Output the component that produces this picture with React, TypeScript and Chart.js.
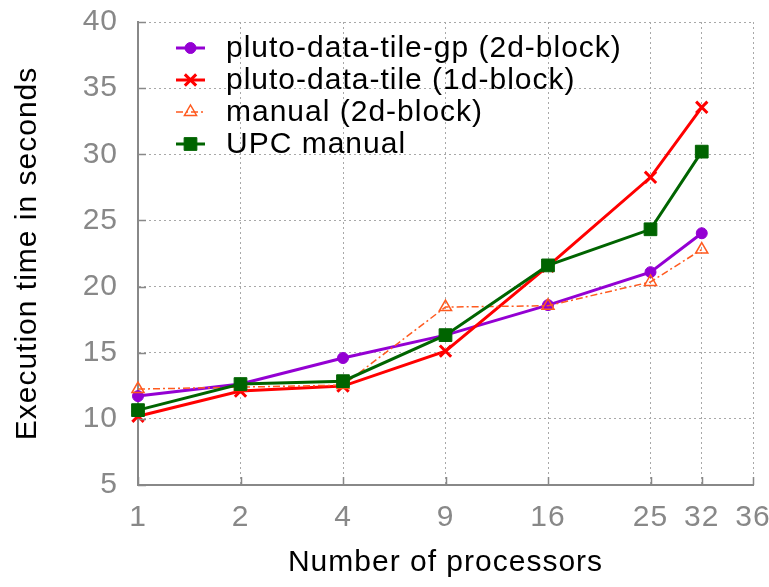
import React, { useEffect, useRef } from 'react';
import { Chart, registerables } from 'chart.js';

Chart.register(...registerables);

// Data
const processors = [1, 2, 4, 9, 16, 25, 32];
const processorAxisPos = [0, 1, 2, 3, 4, 5, 5.5];
const xTickLabels = ['1', '2', '4', '9', '16', '25', '32', '36'];
const xTickPos = [0, 1, 2, 3, 4, 5, 5.5, 6];
const yTickValues = [5, 10, 15, 20, 25, 30, 35, 40];

const seriesNames = [
  'pluto-data-tile-gp (2d-block)',
  'pluto-data-tile (1d-block)',
  'manual (2d-block)',
  'UPC manual',
];
const plutoGp2d = [11.72, 12.63, 14.6, 16.33, 18.6, 21.09, 24.03];
const pluto1d = [10.2, 12.1, 12.48, 15.12, 21.54, 28.26, 33.55];
const manual2d = [12.25, 12.4, 12.55, 18.45, 18.55, 20.35, 22.8];
const upcManual = [10.66, 12.63, 12.85, 16.33, 21.6, 24.33, 30.2];

const FONT = "'Liberation Sans', Arial, sans-serif";
const FS = 30;
const GRAY = '#888888';

const toPoints = (vals: number[]) => vals.map((v, i) => ({ x: processorAxisPos[i], y: v, p: processors[i] }));

const spacing = {
  id: 'spacing',
  beforeDraw(chart: any) {
    try {
      (chart.ctx as any).letterSpacing = '1px';
    } catch (e) {}
  },
};

const inwardTicks = {
  id: 'inwardTicks',
  afterDatasetsDraw(chart: any) {
    const { ctx, chartArea, scales } = chart;
    ctx.save();
    ctx.strokeStyle = GRAY;
    ctx.lineWidth = 1.5;
    ctx.beginPath();
    yTickValues.forEach((v) => {
      const y = Math.round(scales.y.getPixelForValue(v)) + 0.5;
      ctx.moveTo(chartArea.left, y);
      ctx.lineTo(chartArea.left + 8, y);
    });
    xTickPos.forEach((p) => {
      const x = Math.round(scales.x.getPixelForValue(p)) + 0.5;
      ctx.moveTo(x, chartArea.bottom);
      ctx.lineTo(x, chartArea.bottom - 8);
    });
    ctx.stroke();
    ctx.restore();
  },
};

function drawPointSimple(ctx: CanvasRenderingContext2D, style: string, r: number, x: number, y: number) {
  ctx.beginPath();
  if (style === 'circle') {
    ctx.arc(x, y, r, 0, Math.PI * 2);
    ctx.fill();
    ctx.stroke();
  } else if (style === 'crossRot') {
    const d = r * Math.SQRT1_2;
    ctx.moveTo(x - d, y - d);
    ctx.lineTo(x + d, y + d);
    ctx.moveTo(x - d, y + d);
    ctx.lineTo(x + d, y - d);
    ctx.stroke();
  } else if (style === 'triangle') {
    ctx.moveTo(x, y - r);
    ctx.lineTo(x + r * 0.866, y + r * 0.5);
    ctx.lineTo(x - r * 0.866, y + r * 0.5);
    ctx.closePath();
    ctx.fill();
    ctx.stroke();
  } else if (style === 'rect') {
    const s = r * Math.SQRT1_2;
    ctx.rect(x - s, y - s, 2 * s, 2 * s);
    ctx.fill();
    ctx.stroke();
  }
}

const customLegend = {
  id: 'customLegend',
  afterDraw(chart: any) {
    const { ctx } = chart;
    const x0 = 176;
    const x1 = 205;
    const textX = 226;
    const rowY = [48, 80, 112, 144];
    ctx.save();
    chart.data.datasets.forEach((ds: any, i: number) => {
      const y = rowY[i];
      ctx.save();
      ctx.strokeStyle = ds.borderColor;
      ctx.lineWidth = ds.borderWidth;
      ctx.setLineDash(ds.borderDash || []);
      ctx.beginPath();
      ctx.moveTo(x0, y);
      ctx.lineTo(x1, y);
      ctx.stroke();
      ctx.restore();
      ctx.save();
      ctx.setLineDash([]);
      ctx.strokeStyle = ds.pointBorderColor;
      ctx.fillStyle = ds.pointBackgroundColor;
      ctx.lineWidth = ds.pointBorderWidth;
      drawPointSimple(ctx, ds.pointStyle, ds.pointRadius, (x0 + x1) / 2, y);
      ctx.restore();
      ctx.fillStyle = '#000';
      ctx.font = `${FS}px ${FONT}`;
      ctx.textBaseline = 'middle';
      ctx.textAlign = 'left';
      ctx.fillText(ds.label, textX, y + 1);
    });
    ctx.restore();
  },
};

export default function App() {
  const canvasRef = useRef<HTMLCanvasElement>(null);

  useEffect(() => {
    document.body.style.margin = '0';
    const canvas = canvasRef.current!;
    const chart = new Chart(canvas, {
      type: 'line',
      data: {
        datasets: [
          {
            label: seriesNames[0],
            data: toPoints(plutoGp2d),
            borderColor: '#9400d3',
            backgroundColor: '#9400d3',
            borderWidth: 3,
            pointStyle: 'circle',
            pointRadius: 5.5,
            pointBorderWidth: 1,
            pointBorderColor: '#9400d3',
            pointBackgroundColor: '#9400d3',
            clip: false,
            order: 4,
          },
          {
            label: seriesNames[1],
            data: toPoints(pluto1d),
            borderColor: '#ff0000',
            backgroundColor: '#ff0000',
            borderWidth: 3,
            pointStyle: 'crossRot',
            pointRadius: 8,
            pointBorderWidth: 3,
            pointBorderColor: '#ff0000',
            pointBackgroundColor: '#ff0000',
            clip: false,
            order: 3,
          },
          {
            label: seriesNames[2],
            data: toPoints(manual2d),
            borderColor: '#ff5a1f',
            backgroundColor: 'rgba(255,255,255,0)',
            borderWidth: 1.5,
            borderDash: [7, 3, 2, 3],
            pointStyle: 'triangle',
            pointRadius: 7,
            pointBorderWidth: 1.5,
            pointBorderColor: '#ff5a1f',
            pointBackgroundColor: 'rgba(255,255,255,0)',
            clip: false,
            order: 2,
          },
          {
            label: seriesNames[3],
            data: toPoints(upcManual),
            borderColor: '#006400',
            backgroundColor: '#006400',
            borderWidth: 3,
            pointStyle: 'rect',
            pointRadius: 9,
            pointBorderWidth: 1,
            pointBorderColor: '#006400',
            pointBackgroundColor: '#006400',
            clip: false,
            order: 1,
          },
        ],
      },
      options: {
        animation: false,
        responsive: false,
        maintainAspectRatio: false,
        layout: { padding: { top: 22, right: 16, left: 0, bottom: 0 } },
        plugins: {
          legend: { display: false },
          tooltip: { enabled: false },
        },
        elements: { line: { tension: 0 } },
        scales: {
          x: {
            type: 'linear',
            min: 0,
            max: 6,
            afterBuildTicks: (scale: any) => {
              scale.ticks = xTickPos.map((v) => ({ value: v }));
            },
            afterFit: (scale: any) => {
              scale.height = 102;
              scale.paddingLeft = 0;
              scale.paddingRight = 0;
            },
            ticks: {
              autoSkip: false,
              maxRotation: 0,
              color: GRAY,
              padding: 15,
              font: { family: FONT, size: FS },
              callback: (v: any) => {
                const idx = xTickPos.indexOf(Number(v));
                return idx >= 0 ? xTickLabels[idx] : '';
              },
            },
            grid: {
              color: '#a8a8a8',
              lineWidth: 1,
              drawTicks: false,
            },
            border: { display: true, color: GRAY, width: 2, dash: [2, 3] },
            title: {
              display: true,
              text: 'Number of processors',
              color: '#000',
              font: { family: FONT, size: FS },
              padding: { top: 0, bottom: 6 },
            },
          },
          y: {
            type: 'linear',
            min: 5,
            max: 40,
            afterBuildTicks: (scale: any) => {
              scale.ticks = yTickValues.map((v) => ({ value: v }));
            },
            afterFit: (scale: any) => {
              scale.width = 138;
              scale.paddingTop = 0;
              scale.paddingBottom = 0;
            },
            ticks: {
              color: GRAY,
              padding: 20,
              font: { family: FONT, size: FS },
            },
            grid: {
              color: '#a8a8a8',
              lineWidth: 1,
              drawTicks: false,
            },
            border: { display: true, color: GRAY, width: 2, dash: [2, 3] },
            title: {
              display: true,
              text: 'Execution time in seconds',
              color: '#000',
              font: { family: FONT, size: FS },
              padding: { top: 10, bottom: 0 },
            },
          },
        },
      },
      plugins: [spacing, inwardTicks, customLegend],
    } as any);
    return () => chart.destroy();
  }, []);

  return (
    <div style={{ width: 769, height: 587 }}>
      <canvas ref={canvasRef} width={769} height={587} style={{ width: 769, height: 587, display: 'block' }} />
    </div>
  );
}
